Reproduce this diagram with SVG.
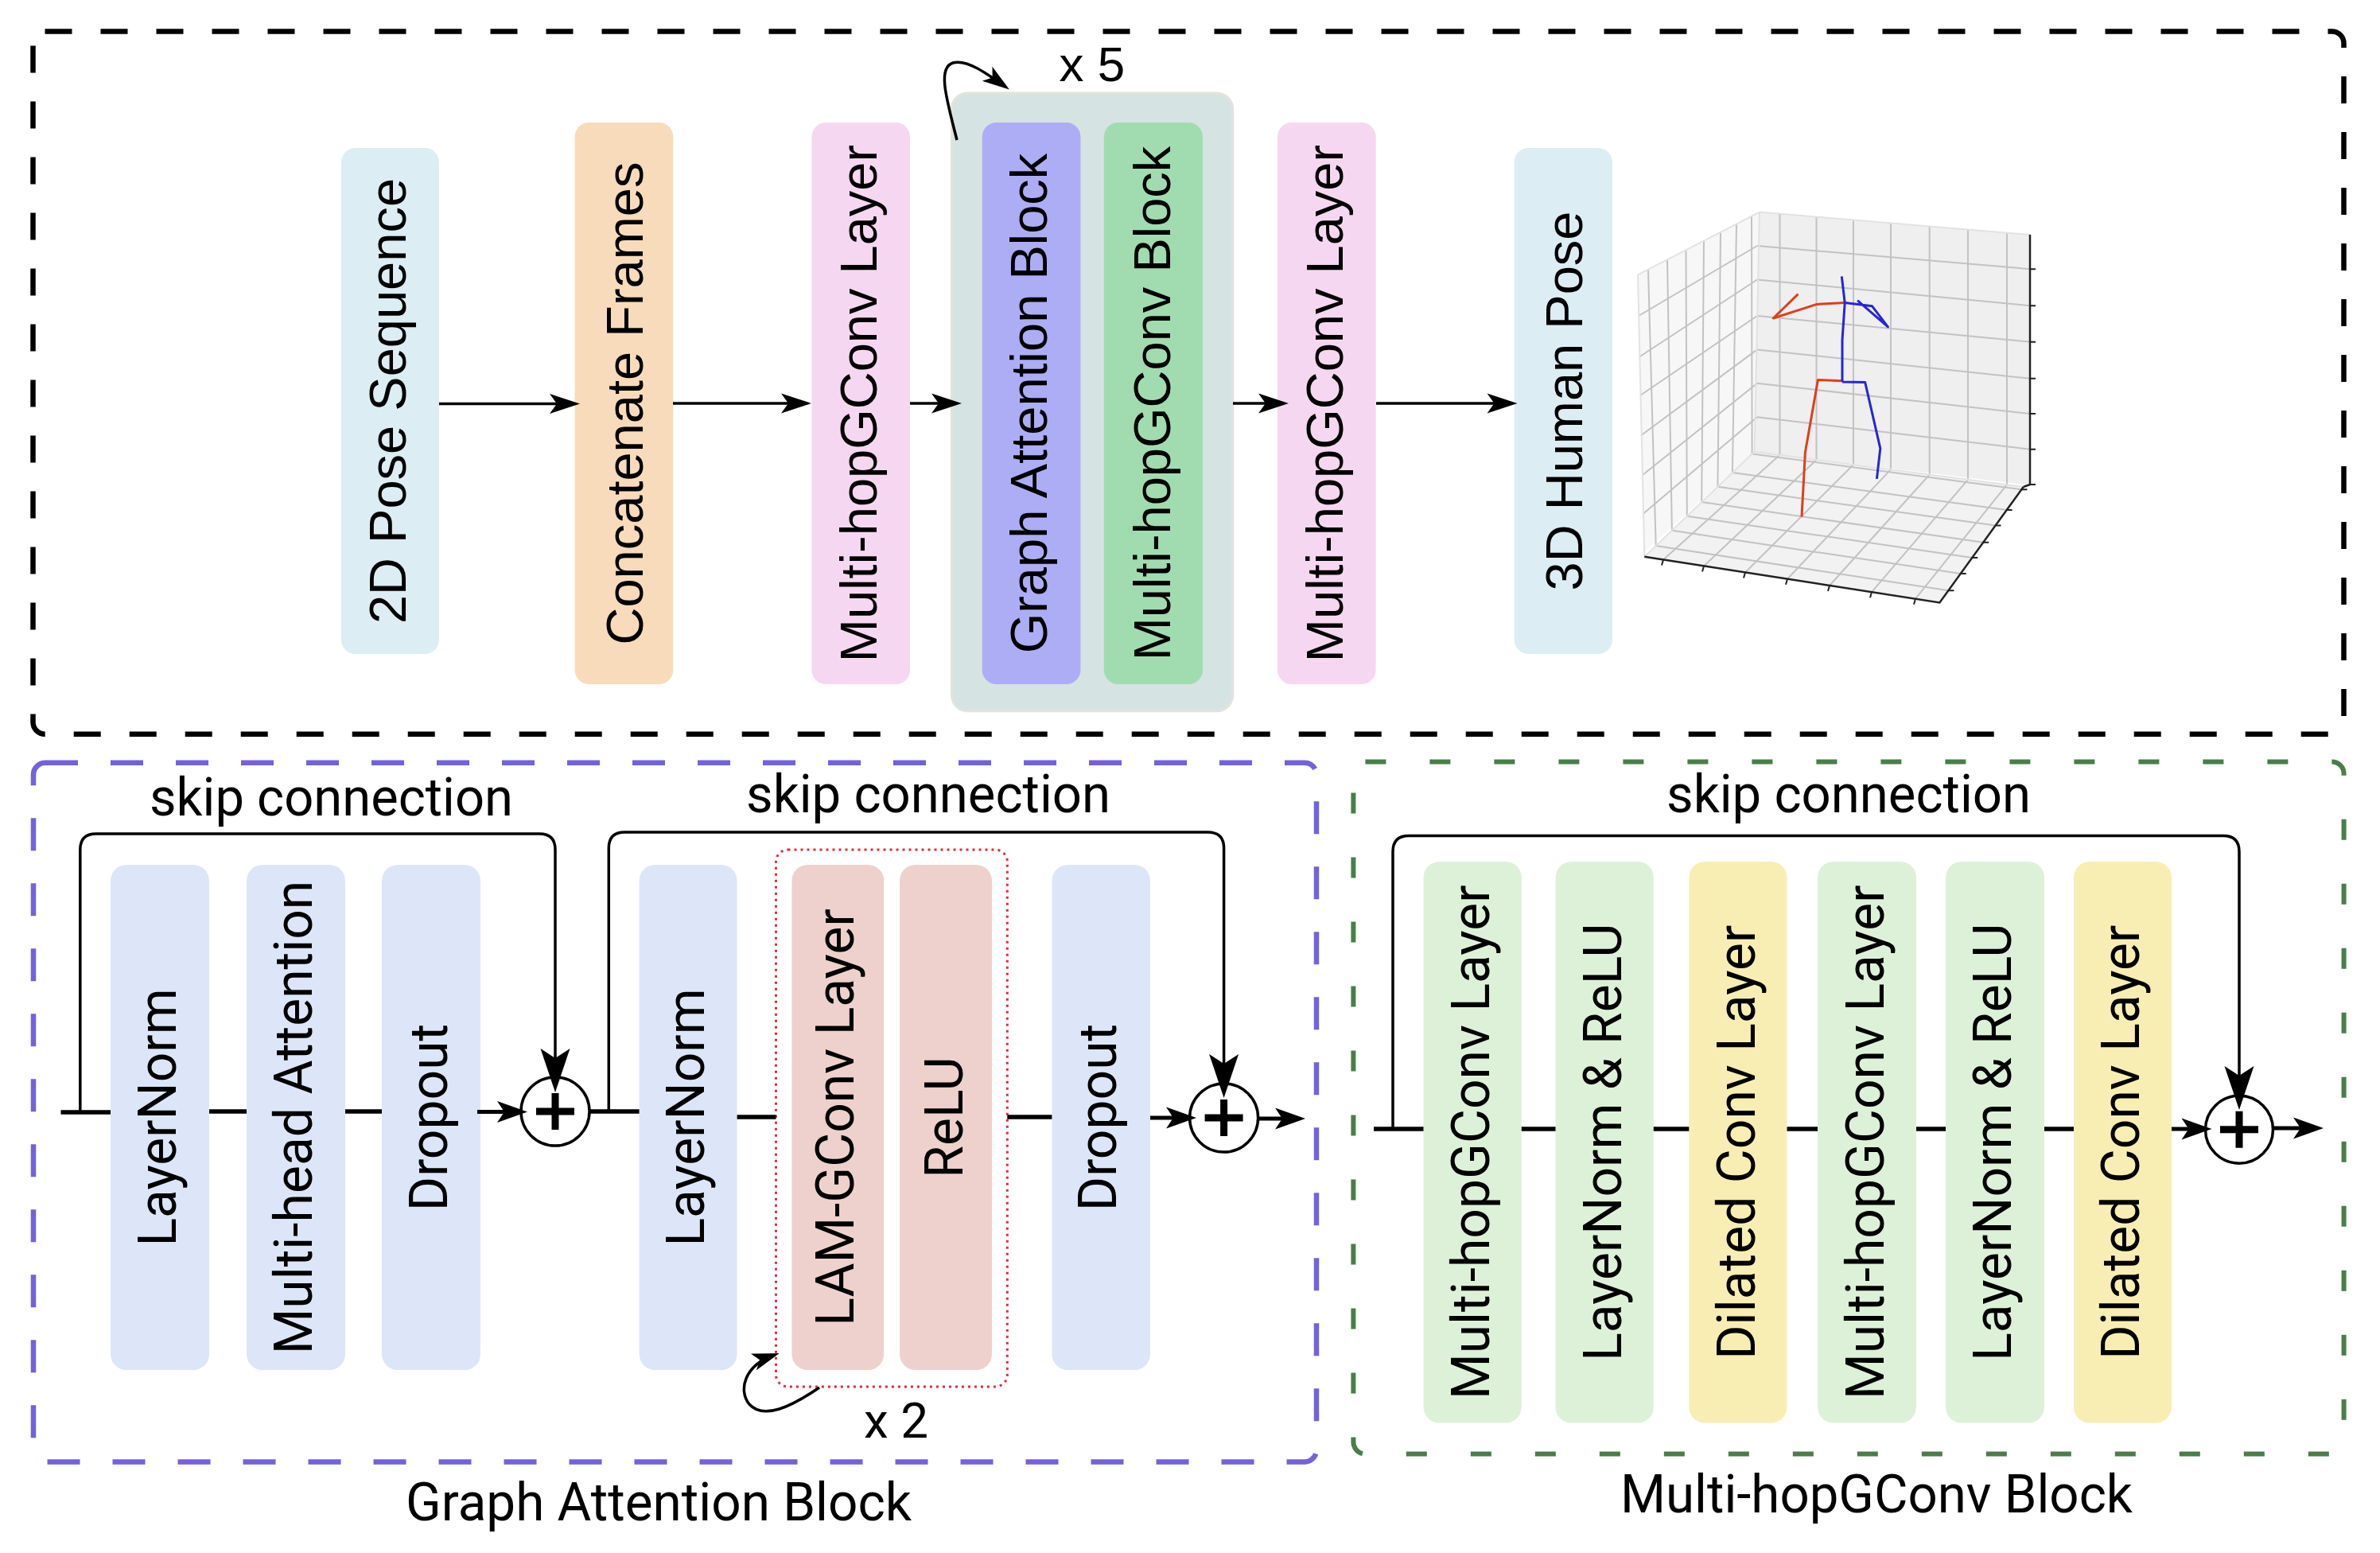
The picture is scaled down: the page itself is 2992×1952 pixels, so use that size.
<svg xmlns="http://www.w3.org/2000/svg" width="2992" height="1952" viewBox="0 0 2992 1952">
<style>
.t1{font-family:"Liberation Sans",Arial,sans-serif;font-size:65px;fill:#000}
.t2{font-family:Roboto,"Liberation Sans",sans-serif;font-size:66px;fill:#000}
.ln{fill:none;stroke:#000;stroke-width:5.5}
.ar{fill:none;stroke:#000;stroke-width:3.5;marker-end:url(#mh)}
.ab{fill:none;stroke:#000;stroke-width:5;marker-end:url(#mb)}
.sk{fill:none;stroke:#000;stroke-width:3.5;marker-end:url(#ms)}
.cv{fill:none;stroke:#000;stroke-width:3.5;marker-end:url(#mc)}
.grid{stroke:#c2c2c2;stroke-width:2;fill:none}
.ax{stroke:#222;stroke-width:2.5;fill:none}
.tk{stroke:#222;stroke-width:2;fill:none}
.plus{stroke:#000;stroke-width:9}
.ci{fill:#fff;stroke:#000;stroke-width:3.5}
</style>
<defs>
<marker id="mh" markerUnits="userSpaceOnUse" markerWidth="60" markerHeight="40" refX="0" refY="0" orient="auto" overflow="visible"><path d="M10,0 L-28,-12.5 L-19,0 L-28,12.5 Z" fill="#000"/></marker>
<marker id="mb" markerUnits="userSpaceOnUse" markerWidth="60" markerHeight="40" refX="0" refY="0" orient="auto" overflow="visible"><path d="M8,0 L-30,-13.5 L-21,0 L-30,13.5 Z" fill="#000"/></marker>
<marker id="ms" markerUnits="userSpaceOnUse" markerWidth="60" markerHeight="40" refX="0" refY="0" orient="auto" overflow="visible"><path d="M8,0 L-47,-18.5 L-35,0 L-47,18.5 Z" fill="#000"/></marker>
<marker id="mc" markerUnits="userSpaceOnUse" markerWidth="60" markerHeight="40" refX="0" refY="0" orient="auto" overflow="visible"><path d="M6,0 L-28,-11 L-20,0 L-28,11 Z" fill="#000"/></marker>
</defs>
<rect width="2992" height="1952" fill="#fff"/>

<!-- dashed frames -->
<rect id="frame-top" x="41.5" y="39.4" width="2905" height="883.4" rx="15" fill="none" stroke="#000" stroke-width="6.5" stroke-dasharray="34 36"/>
<rect id="frame-gab" x="42" y="958.7" width="1613" height="878.7" rx="15" fill="none" stroke="#7262dc" stroke-width="6.5" stroke-dasharray="41 41"/>
<rect id="frame-mhgb" x="1701.4" y="957.4" width="1245.2" height="870.2" rx="15" fill="none" stroke="#4a7d4a" stroke-width="6" stroke-dasharray="26 55"/>

<!-- top row nodes -->
<g id="n-2d"><rect x="429" y="186" width="123" height="636" rx="18" fill="#dcedf4"/><text class="t1" transform="translate(510,504) rotate(-90)" text-anchor="middle">2D Pose Sequence</text></g>
<g id="n-concat"><rect x="722.6" y="154" width="123.7" height="706" rx="18" fill="#f7dbbb"/><text class="t1" transform="translate(808,507) rotate(-90)" text-anchor="middle">Concatenate Frames</text></g>
<g id="n-mhg1"><rect x="1020.4" y="154" width="123.6" height="706" rx="18" fill="#f6d7f1"/><text class="t1" transform="translate(1102,507) rotate(-90)" text-anchor="middle">Multi-hopGConv Layer</text></g>
<g id="n-repeat"><rect x="1196.4" y="117" width="353.3" height="776.7" rx="20" fill="#d6e3e3" stroke="#e2e3dc" stroke-width="3"/>
<text class="t1" x="1331.6" y="101.8" style="font-size:62px">x 5</text></g>
<g id="n-gab"><rect x="1234.7" y="154" width="123.7" height="706" rx="18" fill="#adadf6"/><text class="t1" transform="translate(1316,507) rotate(-90)" text-anchor="middle">Graph Attention Block</text></g>
<g id="n-mhgb"><rect x="1387.8" y="154" width="124.2" height="706" rx="18" fill="#a1dcb0"/><text class="t1" transform="translate(1470.5,507) rotate(-90)" text-anchor="middle">Multi-hopGConv Block</text></g>
<g id="n-mhg2"><rect x="1605.9" y="154" width="123.7" height="706" rx="18" fill="#f6d7f1"/><text class="t1" transform="translate(1687.5,507) rotate(-90)" text-anchor="middle">Multi-hopGConv Layer</text></g>
<g id="n-3d"><rect x="1903.7" y="186" width="123.3" height="636" rx="18" fill="#dcedf4"/><text class="t1" transform="translate(1989,504) rotate(-90)" text-anchor="middle">3D Human Pose</text></g>

<!-- 3D plot -->
<g id="plot3d">
<polygon points="2212,266.6 2552,295 2552,610 2205.6,567.7" fill="#efefef"/>
<polygon points="2059,345.4 2212,266.6 2205.6,567.7 2067.3,693.7" fill="#f7f7f7"/>
<polygon points="2067.3,699.8 2205.6,567.7 2543.7,612 2438.4,757.4" fill="#f2f2f2"/>
<g class="grid">
<path d="M2237.5,268.7 L2237.5,571.8 M2283.5,272.6 L2283.5,577.9 M2330,276.5 L2330,584 M2377,280.4 L2377,590.1 M2425.7,284.4 L2425.7,596.5 M2474,288.5 L2474,602.8 M2523,292.6 L2523,609.2"/>
<path d="M2209,309 L2552,338.2 M2209,351.5 L2552,384.2 M2209,397 L2552,429.7 M2209,439.4 L2552,475.8 M2209,481.8 L2552,520 M2209,524.2 L2552,564.8"/>
<path d="M2060,397 L2209,309 M2061,448.5 L2209,351.5 M2062,497 L2209,397 M2063,547.3 L2209,439.4 M2065,597 L2209,481.8 M2066,645.5 L2209,524.2"/>
<path d="M2202,272.3 L2202.6,570.6 M2183,282.1 L2177.9,594.1 M2163,292.4 L2159.4,611.8 M2142,303.2 L2139.2,631.1 M2119.5,314.8 L2120.8,648.7 M2096,326.9 L2101.9,666.8 M2072,338.7 L2081.7,686.1"/>
<path d="M2237.5,571.8 L2091,703.5 M2283.5,577.9 L2142,711.4 M2330,584 L2194,719.5 M2377,590.1 L2247,727.7 M2425.7,596.5 L2300,736 M2474,602.8 L2353,744.2 M2523,609.2 L2408,752.7"/>
<path d="M2202.6,570.6 L2541.4,615.2 M2177.9,594.1 L2522.6,641.1 M2159.4,611.8 L2508.5,660.6 M2139.2,631.1 L2493.2,681.8 M2120.8,648.7 L2479.2,701.1 M2101.9,666.8 L2464.7,721.1 M2081.7,686.1 L2449.4,742.3"/>
<path d="M2212,266.6 L2552,295 M2059,345.4 L2212,266.6 M2212,266.6 L2205.6,567.7 M2205.6,567.7 L2543.7,612 M2205.6,567.7 L2067.3,699.8 M2059,345.4 L2067.3,699.8" stroke="#e2e2e2"/>
</g>
<path class="ax" d="M2552,295 L2552,609 L2543.7,612 M2067.3,699.8 L2438.4,757.4 L2543.7,612"/>
<path class="tk" d="M2552,338.2 h7 M2552,384.2 h7 M2552,429.7 h7 M2552,475.8 h7 M2552,520 h7 M2552,564.8 h7 M2552,609 h7"/>
<path class="tk" d="M2091,703.5 l-2,7 M2142,711.4 l-2,7 M2194,719.5 l-2,7 M2247,727.7 l-2,7 M2300,736 l-2,7 M2353,744.2 l-2,7 M2408,752.7 l-2,7"/>
<path class="tk" d="M2541.4,615.2 h7 M2522.6,641.1 h7 M2508.5,660.6 h7 M2493.2,681.8 h7 M2479.2,701.1 h7 M2464.7,721.1 h7 M2449.4,742.3 h7"/>
<path d="M2260.5,369.7 L2229.2,400 L2284.1,382.4 L2319.2,380.6 M2316,478.8 L2285.4,477.6 L2269.4,568.5 L2265,649.7" fill="none" stroke="#df3e1c" stroke-width="3" stroke-linejoin="round"/>
<path d="M2315.3,347.3 L2319.2,380.6 L2316,427.3 L2316,480 M2319.2,380.6 L2353.6,384.8 L2373.4,410.9 L2335.1,377.6 M2316,480 L2344.7,480.6 L2363.8,563.6 L2359.4,601.8" fill="none" stroke="#2626d6" stroke-width="3" stroke-linejoin="round"/>
</g>

<!-- Graph Attention Block detail -->
<g id="n-ln1"><rect x="139" y="1087" width="124" height="635" rx="20" fill="#dde6f8"/><text class="t2" transform="translate(221,1404.5) rotate(-90)" text-anchor="middle">LayerNorm</text></g>
<g id="n-mha"><rect x="310" y="1087" width="124" height="635" rx="20" fill="#dde6f8"/><text class="t2" transform="translate(392,1404.5) rotate(-90)" text-anchor="middle">Multi-head Attention</text></g>
<g id="n-do1"><rect x="480" y="1087" width="124" height="635" rx="20" fill="#dde6f8"/><text class="t2" transform="translate(562,1404.5) rotate(-90)" text-anchor="middle">Dropout</text></g>
<g id="n-add1"><circle class="ci" cx="698" cy="1397" r="43"/><path class="plus" d="M674,1397 H722 M698,1374 V1420"/></g>
<g id="n-ln2"><rect x="803.6" y="1087" width="123" height="635" rx="20" fill="#dde6f8"/><text class="t2" transform="translate(885,1404.5) rotate(-90)" text-anchor="middle">LayerNorm</text></g>
<g id="n-loop"><rect x="975.5" y="1068" width="290.8" height="675" rx="15" fill="none" stroke="#e8283a" stroke-width="3" stroke-dasharray="3 5"/>
<text class="t2" x="1086" y="1806.8" style="font-size:62px">x 2</text></g>
<g id="n-lam"><rect x="995.4" y="1087" width="115.8" height="635" rx="20" fill="#eed1cc"/><text class="t2" transform="translate(1073,1404.5) rotate(-90)" text-anchor="middle">LAM-GConv Layer</text></g>
<g id="n-relu"><rect x="1131" y="1087" width="116" height="635" rx="20" fill="#eed1cc"/><text class="t2" transform="translate(1210,1404.5) rotate(-90)" text-anchor="middle">ReLU</text></g>
<g id="n-do2"><rect x="1322.4" y="1087" width="123.6" height="635" rx="20" fill="#dde6f8"/><text class="t2" transform="translate(1403,1404.5) rotate(-90)" text-anchor="middle">Dropout</text></g>
<g id="n-add2"><circle class="ci" cx="1538.6" cy="1405" r="43"/><path class="plus" d="M1514.6,1405 H1562.6 M1538.6,1382 V1428"/></g>
<text class="t2" x="188" y="1024.5" textLength="457" lengthAdjust="spacingAndGlyphs">skip connection</text>
<text class="t2" x="938" y="1021" textLength="458" lengthAdjust="spacingAndGlyphs">skip connection</text>
<text class="t2" x="510" y="1911" textLength="636" lengthAdjust="spacingAndGlyphs">Graph Attention Block</text>

<!-- Multi-hopGConv Block detail -->
<g id="n-b1"><rect x="1789.5" y="1083" width="123.3" height="705.5" rx="20" fill="#ddf1d8"/><text class="t2" transform="translate(1872,1435.7) rotate(-90)" text-anchor="middle">Multi-hopGConv Layer</text></g>
<g id="n-b2"><rect x="1955.5" y="1083" width="123.3" height="705.5" rx="20" fill="#ddf1d8"/><text class="t2" transform="translate(2038,1435.7) rotate(-90)" text-anchor="middle">LayerNorm &amp; ReLU</text></g>
<g id="n-b3"><rect x="2123.3" y="1083" width="123.2" height="705.5" rx="20" fill="#f8eeb3"/><text class="t2" transform="translate(2206,1435.7) rotate(-90)" text-anchor="middle">Dilated Conv Layer</text></g>
<g id="n-b4"><rect x="2285" y="1083" width="124" height="705.5" rx="20" fill="#ddf1d8"/><text class="t2" transform="translate(2368,1435.7) rotate(-90)" text-anchor="middle">Multi-hopGConv Layer</text></g>
<g id="n-b5"><rect x="2446" y="1083" width="124" height="705.5" rx="20" fill="#ddf1d8"/><text class="t2" transform="translate(2528,1435.7) rotate(-90)" text-anchor="middle">LayerNorm &amp; ReLU</text></g>
<g id="n-b6"><rect x="2607" y="1083" width="123" height="705.5" rx="20" fill="#f8eeb3"/><text class="t2" transform="translate(2689,1435.7) rotate(-90)" text-anchor="middle">Dilated Conv Layer</text></g>
<g id="n-add3"><circle class="ci" cx="2815" cy="1419.7" r="42.5"/><path class="plus" d="M2791,1419.7 H2839 M2815,1396.7 V1442.7"/></g>
<text class="t2" x="2095" y="1021" textLength="458" lengthAdjust="spacingAndGlyphs">skip connection</text>
<text class="t2" x="2037" y="1901" textLength="644" lengthAdjust="spacingAndGlyphs">Multi-hopGConv Block</text>

<!-- connectors -->
<g id="connectors">
<path class="ar" d="M552,507.5 H719"/>
<path class="ar" d="M846,507 H1010"/>
<path class="ar" d="M1144,507 H1199"/>
<path class="ar" d="M1550,507 H1610"/>
<path class="ar" d="M1730,507 H1897.5"/>
<path class="cv" d="M1203,176 C1190,125 1178,85 1198,79 C1215,74 1240,92 1264,109"/>

<path class="ln" d="M76.5,1398 H139"/>
<path class="ln" d="M263,1397 H310"/>
<path class="ln" d="M434,1397 H480"/>
<path class="ab" d="M600,1397.5 H655"/>
<path class="sk" d="M100.8,1398 V1068 Q100.8,1048 120.8,1048 H678 Q698,1048 698,1068 V1365"/>
<path class="ln" d="M741,1397 H803.6"/>
<path class="sk" d="M765.3,1397 V1066 Q765.3,1046 785.3,1046 H1518.6 Q1538.6,1046 1538.6,1066 V1372"/>
<path class="ln" d="M926.6,1404 H975.5"/>
<path class="ln" d="M1266.3,1404 H1322.4"/>
<path class="ab" d="M1446,1405 H1496"/>
<path class="ab" d="M1581.6,1406 H1633"/>
<path class="cv" d="M1030,1744 C995,1768 960,1785 942,1765 C928,1748 935,1716 974,1703"/>

<path class="ln" d="M1727,1419 H1789.5"/>
<path class="sk" d="M1751,1419 V1070.6 Q1751,1050.6 1771,1050.6 H2795 Q2815,1050.6 2815,1070.6 V1387"/>
<path class="ln" d="M1912.8,1419 H1955.5"/>
<path class="ln" d="M2078.8,1419 H2123.3"/>
<path class="ln" d="M2246.5,1419 H2285"/>
<path class="ln" d="M2409,1419 H2446"/>
<path class="ln" d="M2570,1419 H2607"/>
<path class="ab" d="M2730,1419 H2772.5"/>
<path class="ab" d="M2857.5,1418 H2913"/>
</g>
</svg>
